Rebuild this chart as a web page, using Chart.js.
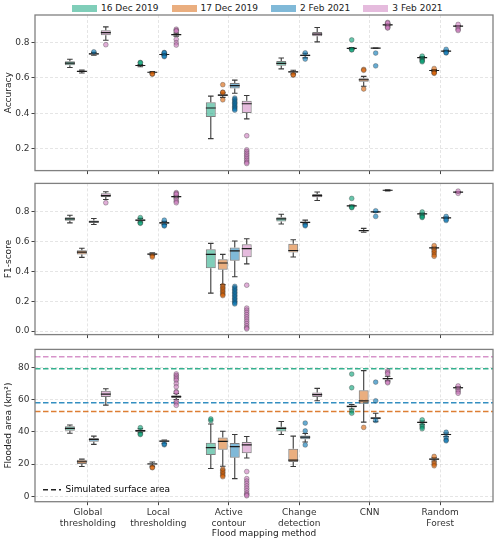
<!DOCTYPE html>
<html>
<head>
<meta charset="utf-8">
<script src="https://cdn.jsdelivr.net/npm/chart.js@4.4.1/dist/chart.umd.min.js"></script>
<style>
  html, body { margin: 0; padding: 0; background: #fff; }
  body { width: 500px; height: 543px; position: relative; overflow: hidden; font-family: "DejaVu Sans", sans-serif; }
  .panel { position: absolute; left: 0; width: 500px; }
  #legend { position: absolute; top: 3px; left: 72px; display: flex; align-items: center; font-size: 9px; color: #222; line-height: 11px; }
  #legend .item { display: flex; align-items: center; margin-right: 13px; }
  #legend .sw { width: 25px; height: 7px; margin-right: 4px; }
</style>
</head>
<body>
<div id="legend"></div>
<div class="panel" style="top:0;height:178px"><canvas id="chartAcc"></canvas></div>
<div class="panel" style="top:176px;height:166px"><canvas id="chartF1"></canvas></div>
<div class="panel" style="top:342px;height:201px"><canvas id="chartArea"></canvas></div>
<script>
// ── Données ─────────────────────────────────────────
const XMIN = -0.75, XMAX = 5.75;
const methods = [['Global', 'thresholding'], ['Local', 'thresholding'], ['Active', 'contour'],
                 ['Change', 'detection'], 'CNN', ['Random', 'Forest']];
const dates  = ['16 Dec 2019', '17 Dec 2019', '2 Feb 2021', '3 Feb 2021'];
const colors = ['#029e73', '#d55e00', '#0173b2', '#cc78bc'];

const accTicks  = [0.2, 0.4, 0.6, 0.8];
const f1Ticks   = [0.0, 0.2, 0.4, 0.6, 0.8];
const areaTicks = [0, 20, 40, 60, 80];

// boîtes : [moustache basse, q1, médiane, q3, moustache haute] par méthode
const accDec16 = [[0.658,0.671,0.682,0.693,0.704],[0.662,0.667,0.669,0.671,0.675],[0.258,0.380,0.430,0.463,0.497],
                  [0.650,0.667,0.681,0.694,0.711],[0.760,0.763,0.765,0.767,0.770],[0.706,0.711,0.713,0.715,0.719]];
const accDec17 = [[0.627,0.633,0.636,0.639,0.643],[0.626,0.629,0.631,0.633,0.635],[0.490,0.497,0.502,0.508,0.514],
                  [0.622,0.629,0.633,0.637,0.642],[0.552,0.578,0.589,0.598,0.608],[0.636,0.639,0.641,0.643,0.646]];
const accFeb2  = [[0.727,0.731,0.734,0.738,0.743],[0.725,0.729,0.731,0.733,0.737],[0.513,0.539,0.556,0.571,0.587],
                  [0.712,0.721,0.726,0.731,0.738],[0.767,0.767,0.767,0.767,0.767],[0.746,0.748,0.750,0.752,0.754]];
const accFeb3  = [[0.811,0.839,0.854,0.867,0.886],[0.834,0.839,0.843,0.846,0.851],[0.369,0.402,0.454,0.471,0.500],
                  [0.802,0.833,0.846,0.857,0.883],[0.893,0.896,0.898,0.901,0.904],[0.887,0.889,0.891,0.892,0.894]];
const accDec16Out = [[],[0.686,0.684],[],[],[0.813,0.758,0.757],[0.722,0.700,0.695,0.690]];
const accDec17Out = [[],[0.620,0.622],[0.561,0.519,0.517,0.476],[0.615,0.617],[0.647,0.642,0.537],[0.652,0.632,0.628,0.625]];
const accFeb2Out  = [[0.746],[0.742,0.740,0.722,0.719],[0.486,0.478,0.470,0.462,0.455,0.447,0.440,0.432,0.425,0.418],
                     [0.705,0.740],[0.739,0.667],[0.760,0.742,0.740]];
const accFeb3Out  = [[0.786],[0.873,0.866,0.862,0.816,0.797,0.784],
                     [0.274,0.195,0.185,0.175,0.165,0.155,0.145,0.135,0.125,0.118],
                     [],[0.911,0.907,0.888,0.883,0.880],[0.900,0.880,0.872,0.866]];

const f1Dec16 = [[0.727,0.741,0.754,0.765,0.778],[0.733,0.738,0.745,0.750,0.757],[0.255,0.422,0.515,0.550,0.589],
                 [0.719,0.736,0.754,0.765,0.785],[0.835,0.839,0.841,0.843,0.846],[0.780,0.785,0.787,0.789,0.792]];
const f1Dec17 = [[0.495,0.514,0.530,0.543,0.556],[0.510,0.514,0.517,0.521,0.525],[0.312,0.411,0.457,0.482,0.515],
                 [0.497,0.527,0.541,0.587,0.613],[0.664,0.670,0.675,0.679,0.690],[0.552,0.556,0.559,0.561,0.565]];
const f1Feb2  = [[0.716,0.727,0.734,0.743,0.756],[0.716,0.721,0.727,0.732,0.737],[0.365,0.473,0.539,0.561,0.605],
                 [0.720,0.725,0.730,0.735,0.745],[0.798,0.799,0.800,0.801,0.803],[0.756,0.759,0.761,0.763,0.766]];
const f1Feb3  = [[0.884,0.901,0.910,0.925,0.936],[0.895,0.899,0.903,0.908,0.912],[0.451,0.495,0.554,0.583,0.620],
                 [0.877,0.899,0.910,0.921,0.934],[0.942,0.944,0.946,0.947,0.949],[0.929,0.931,0.933,0.935,0.937]];
const f1Dec16Out = [[],[0.762,0.727,0.724],[],[],[0.891,0.832,0.829],[0.800,0.775,0.768,0.763]];
const f1Dec17Out = [[],[0.505,0.497],[0.305,0.295,0.285,0.275,0.265,0.255,0.245,0.238],[],[],
                    [0.574,0.545,0.535,0.525,0.512,0.502]];
const f1Feb2Out  = [[],[0.745,0.710,0.706],
                    [0.300,0.290,0.280,0.270,0.260,0.250,0.240,0.230,0.220,0.210,0.200,0.190,0.182],
                    [0.712,0.707],[0.808,0.770],[0.770,0.750,0.743]];
const f1Feb3Out  = [[0.862],[0.930,0.924,0.918,0.885,0.872,0.862],
                    [0.308,0.154,0.140,0.125,0.110,0.095,0.080,0.065,0.050,0.035,0.022,0.015],
                    [],[],[0.925,0.940]];

const areaDec16 = [[39.2,40.8,42.2,43.5,44.3],[39.5,40.0,40.8,41.4,42.0],[17.3,25.6,30.3,33.3,44.9],
                   [38.4,40.2,42.2,43.2,46.5],[54.2,55.2,55.8,56.4,57.0],[44.8,45.5,45.9,46.3,46.8]];
const areaDec17 = [[18.5,20.1,21.5,22.7,23.1],[18.8,19.9,20.1,20.5,21.3],[18.7,29.0,34.1,36.5,40.4],
                   [18.5,21.3,22.5,29.6,37.4],[46.1,57.5,59.3,65.8,78.0],[22.0,22.7,23.1,23.5,24.0]];
const areaFeb2  = [[32.3,33.9,35.3,36.3,37.4],[33.0,33.9,34.3,34.7,35.0],[11.0,24.0,30.9,33.1,38.4],
                   [33.7,35.5,36.8,37.8,39.0],[46.3,47.9,48.5,49.1,51.6],[37.2,38.0,38.4,38.8,39.3]];
const areaFeb3  = [[56.6,61.7,63.4,65.6,66.8],[60.1,61.1,61.9,62.7,63.8],[23.8,26.8,31.9,33.7,37.2],
                   [59.3,61.7,63.1,64.4,67.0],[71.7,72.7,73.1,73.5,74.5],[66.6,67.0,67.4,67.8,68.2]];
const areaDec16Out = [[],[42.6,38.8,38.4],[47.0,48.0],[],[75.9,67.4,53.0,51.6],[47.5,44.0,43.0,42.0]];
const areaDec17Out = [[],[18.0,17.8],[16.9,16.0,15.0,14.0,13.0,12.2],[],[42.8],[24.8,21.0,20.0,19.0]];
const areaFeb2Out  = [[],[32.0,32.5],[],[45.5,40.6,31.9],[70.9,59.3,47.1],[39.8,36.5,35.0,34.5]];
const areaFeb3Out  = [[],[76.0,75.0,74.0,73.0,72.0,70.0,68.0,65.0,64.5,59.0,58.0,56.5],
                      [15.4,11.0,9.5,8.0,6.5,5.0,3.5,2.0,1.0,0.4],[],[77.9,76.9,76.0,71.0,70.5],[68.5,66.0,65.0,64.0]];

// surface simulée (lignes pointillées), même ordre que dates
const simulatedArea = [79.2, 52.6, 58.1, 86.7];

// ── Helpers ─────────────────────────────────────────
function rgba(hex, a) {
  const n = parseInt(hex.slice(1), 16);
  return `rgba(${n >> 16},${(n >> 8) & 255},${n & 255},${a})`;
}

Chart.defaults.font.family = '"DejaVu Sans", sans-serif';
Chart.defaults.font.size = 9;
Chart.defaults.color = '#333';

// moustaches, médianes, points aberrants + cadre
const boxExtras = {
  id: 'boxExtras',
  afterLayout(chart) {
    // légende "chartArea" : la caler sur la zone du graphique
    const lg = chart.legend, a = chart.chartArea;
    if (lg && lg.options.display && lg.options.position === 'chartArea') {
      lg.top = a.top;
      lg.bottom = a.bottom + 0.6;
    }
  },
  afterDatasetsDraw(chart) {
    const ctx = chart.ctx, ys = chart.scales.y, a = chart.chartArea;
    ctx.save();
    ctx.beginPath();
    ctx.rect(a.left, a.top, a.right - a.left, a.bottom - a.top);
    ctx.clip();
    chart.data.datasets.forEach((ds, di) => {
      if (!ds.stats) return;
      chart.getDatasetMeta(di).data.forEach((bar, i) => {
        const [lo, q1, med, q3, hi] = ds.stats[i];
        const x = bar.x, w = bar.width;
        ctx.strokeStyle = '#3a3a3a';
        ctx.lineWidth = 1.1;
        ctx.beginPath();
        ctx.moveTo(x, ys.getPixelForValue(q3)); ctx.lineTo(x, ys.getPixelForValue(hi));
        ctx.moveTo(x, ys.getPixelForValue(q1)); ctx.lineTo(x, ys.getPixelForValue(lo));
        ctx.moveTo(x - w * 0.28, ys.getPixelForValue(hi)); ctx.lineTo(x + w * 0.28, ys.getPixelForValue(hi));
        ctx.moveTo(x - w * 0.28, ys.getPixelForValue(lo)); ctx.lineTo(x + w * 0.28, ys.getPixelForValue(lo));
        ctx.stroke();
        ctx.strokeStyle = '#1a1a1a';
        ctx.lineWidth = 1.2;
        ctx.beginPath();
        ctx.moveTo(x - w / 2, ys.getPixelForValue(med)); ctx.lineTo(x + w / 2, ys.getPixelForValue(med));
        ctx.stroke();
        ds.fliers[i].forEach(v => {
          ctx.beginPath();
          ctx.arc(x, ys.getPixelForValue(v), 2.4, 0, Math.PI * 2);
          ctx.fillStyle = rgba(ds.baseColor, 0.6);
          ctx.fill();
          ctx.strokeStyle = 'rgba(40,40,40,0.45)';
          ctx.lineWidth = 0.7;
          ctx.stroke();
        });
      });
    });
    ctx.restore();
  },
  afterDraw(chart) {
    const ctx = chart.ctx, a = chart.chartArea;
    ctx.save();
    ctx.strokeStyle = '#808080';
    ctx.lineWidth = 1.3;
    ctx.strokeRect(a.left, a.top, a.right - a.left, a.bottom - a.top);
    ctx.restore();
  }
};

function makePanel(id, boxes, outs, ticks, yMin, yMax, yTitle, decimals, cfg) {
  const datasets = boxes.map((b, s) => ({
    type: 'bar',
    label: dates[s],
    data: b.map((st, i) => ({ x: i, y: [st[1], st[3]] })),
    stats: b,
    fliers: outs[s],
    baseColor: colors[s],
    backgroundColor: rgba(colors[s], 0.5),
    borderColor: 'rgba(70,70,70,0.7)',
    borderWidth: 1,
    borderSkipped: false,
    barPercentage: 0.83,
    categoryPercentage: 0.68
  }));
  (cfg.extra || []).forEach(d => datasets.push(d));

  return new Chart(document.getElementById(id), {
    type: 'bar',
    data: { datasets },
    plugins: [boxExtras],
    options: {
      responsive: true,
      maintainAspectRatio: false,
      animation: false,
      events: [],
      layout: { padding: { top: cfg.padTop, right: 7, left: 0, bottom: 0 } },
      plugins: {
        legend: cfg.legend || { display: false },
        tooltip: { enabled: false }
      },
      scales: {
        x: {
          type: 'linear', min: XMIN, max: XMAX, offset: false,
          afterBuildTicks: s => { s.ticks = methods.map((m, i) => ({ value: i })); },
          afterFit: s => { s.height = cfg.xHeight; },
          grid: { offset: false, color: 'rgba(0,0,0,0.13)', lineWidth: 0.8, tickColor: '#444', tickLength: 3.5, tickWidth: 1 },
          border: { display: false, dash: [3, 2] },
          ticks: {
            padding: 2.5,
            color: '#333',
            font: { size: 9, lineHeight: 1.15 },
            maxRotation: 0,
            autoSkip: false,
            callback: v => cfg.showX ? methods[v] : ''
          },
          title: cfg.showX
            ? { display: true, text: 'Flood mapping method', color: '#222', font: { size: 9 }, padding: { top: 0, bottom: 3.5 } }
            : { display: false }
        },
        y: {
          min: yMin, max: yMax,
          afterBuildTicks: s => { s.ticks = ticks.map(v => ({ value: v })); },
          afterFit: s => { s.width = 35; },
          grid: { color: 'rgba(0,0,0,0.13)', lineWidth: 0.8, tickColor: '#444', tickLength: 3.5, tickWidth: 1 },
          border: { display: false, dash: [3, 2] },
          ticks: { padding: 2, color: '#333', font: { size: 9 }, callback: v => v.toFixed(decimals) },
          title: { display: true, text: yTitle, color: '#222', font: { size: 9 }, padding: { top: 3.6, bottom: 0 } }
        }
      }
    }
  });
}

// ── Légende (en haut) ───────────────────────────────
const legendEl = document.getElementById('legend');
dates.forEach((d, s) => {
  const item = document.createElement('div');
  item.className = 'item';
  item.innerHTML = `<span class="sw" style="background:${rgba(colors[s], 0.5)}"></span><span>${d}</span>`;
  legendEl.appendChild(item);
});

// ── Panneaux ────────────────────────────────────────
makePanel('chartAcc',
  [accDec16, accDec17, accFeb2, accFeb3], [accDec16Out, accDec17Out, accFeb2Out, accFeb3Out],
  accTicks, 0.078, 0.953, 'Accuracy', 1,
  { padTop: 15, xHeight: 6, showX: false });

makePanel('chartF1',
  [f1Dec16, f1Dec17, f1Feb2, f1Feb3], [f1Dec16Out, f1Dec17Out, f1Feb2Out, f1Feb3Out],
  f1Ticks, -0.024, 0.992, 'F1-score', 1,
  { padTop: 5.7, xHeight: 6, showX: false });

const simLines = simulatedArea.map((v, s) => ({
  type: 'line',
  label: 'sim ' + dates[s],
  data: [{ x: XMIN, y: v }, { x: XMAX, y: v }],
  borderColor: rgba(colors[s], 0.8),
  borderWidth: 1.5,
  borderDash: [5.5, 2.5],
  pointRadius: 0
}));

makePanel('chartArea',
  [areaDec16, areaDec17, areaFeb2, areaFeb3], [areaDec16Out, areaDec17Out, areaFeb2Out, areaFeb3Out],
  areaTicks, -3.3, 91.2, 'Flooded area (km²)', 0,
  {
    padTop: 4.7, xHeight: 41.3, showX: true, extra: simLines,
    legend: {
      display: true,
      position: 'chartArea',
      align: 'end',
      onClick: null,
      labels: {
        usePointStyle: true,
        pointStyleWidth: 18,
        boxHeight: 9,
        padding: 8,
        color: '#222',
        font: { size: 9 },
        generateLabels: () => [{
          text: 'Simulated surface area',
          strokeStyle: '#222',
          fillStyle: 'rgba(0,0,0,0)',
          lineWidth: 1.5,
          lineDash: [5, 3],
          pointStyle: 'line',
          hidden: false
        }]
      }
    }
  });
</script>
</body>
</html>
